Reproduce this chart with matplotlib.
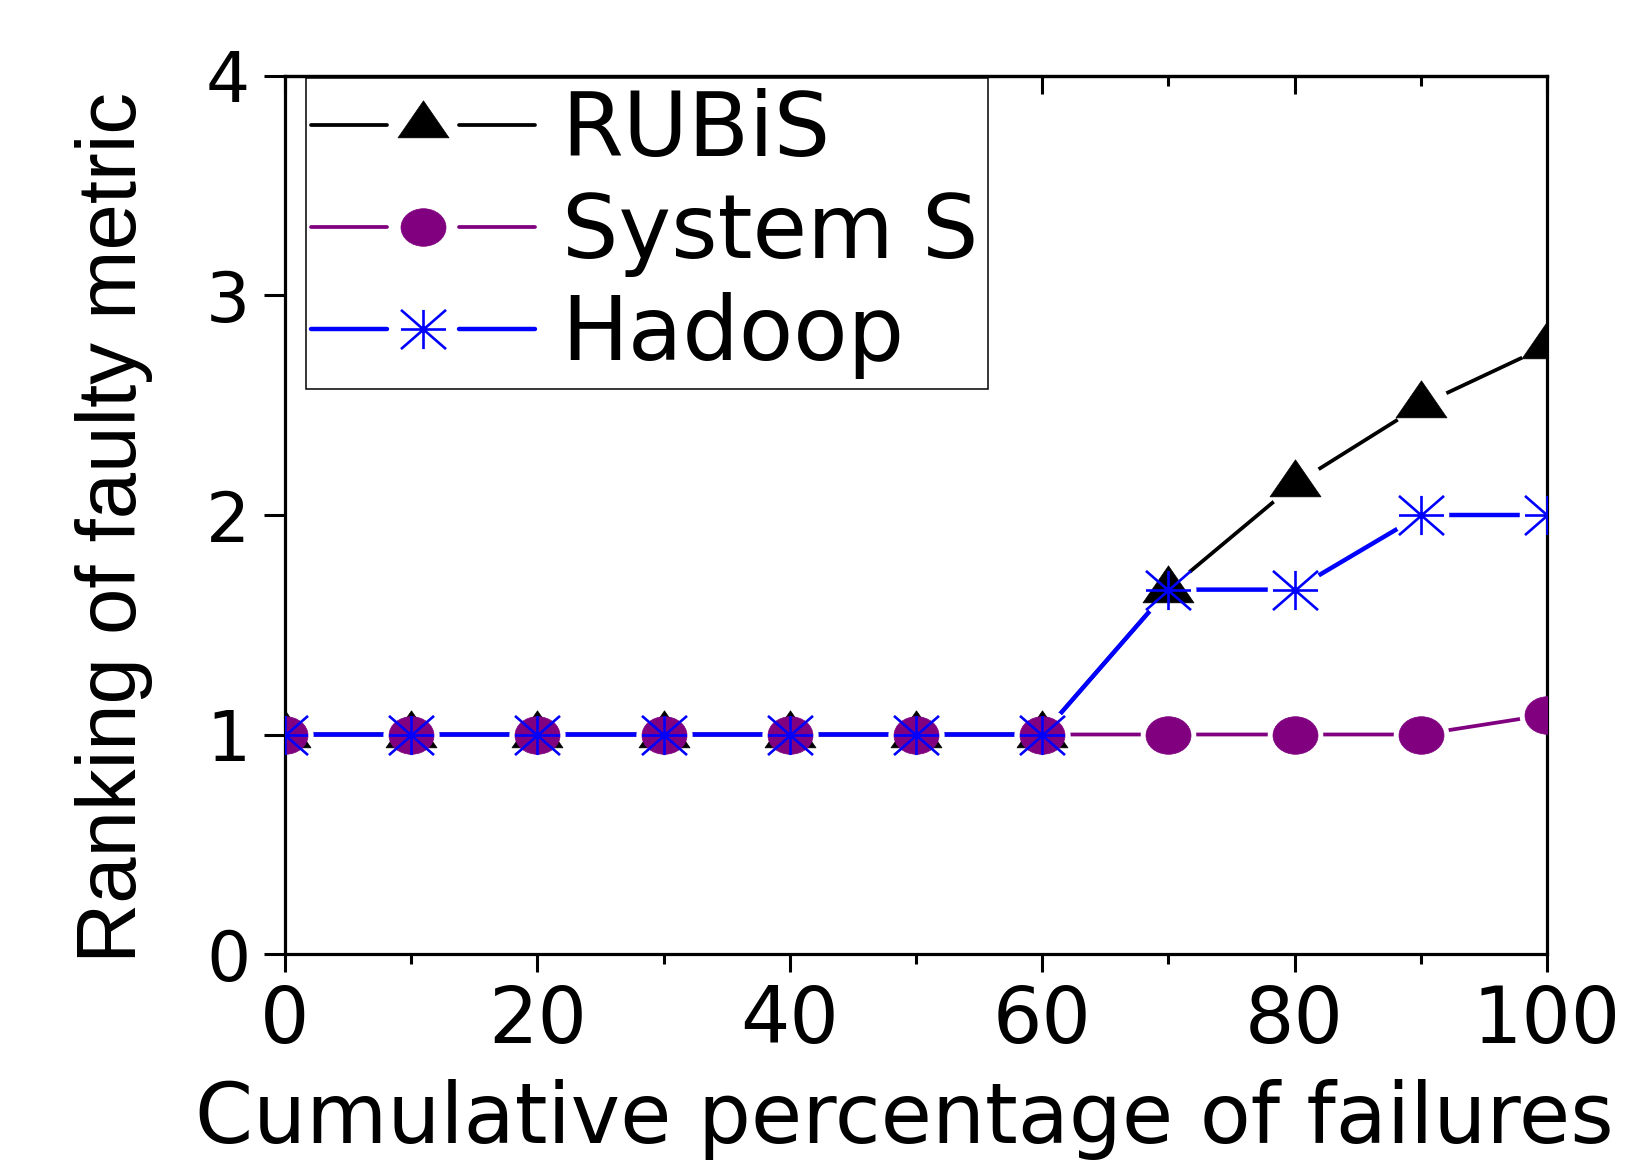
import numpy as np
import matplotlib
matplotlib.use("Agg")
import matplotlib.pyplot as plt
from matplotlib.lines import Line2D
from matplotlib.path import Path
from matplotlib.legend_handler import HandlerBase
from matplotlib.ticker import MultipleLocator, FixedLocator

# ---------------- data ----------------
x_pct = [0, 10, 20, 30, 40, 50, 60, 70, 80, 90, 100]
rubis = [1, 1, 1, 1, 1, 1, 1, 1.66, 2.14, 2.5, 2.77]
system_s = [1, 1, 1, 1, 1, 1, 1, 1, 1, 1, 1.09]
hadoop = [1, 1, 1, 1, 1, 1, 1, 1.66, 1.66, 2, 2]
series_labels = ["RUBiS", "System S", "Hadoop"]
x_ticks = [0, 20, 40, 60, 80, 100]
y_ticks = [0, 1, 2, 3, 4]
x_label = "Cumulative percentage of failures"
y_label = "Ranking of faulty metric"

# ---------------- markers ----------------
tri_path = Path([(-0.5, -0.242), (0.5, -0.242), (0.0, 0.484), (-0.5, -0.242)],
                [Path.MOVETO, Path.LINETO, Path.LINETO, Path.CLOSEPOLY])
uc = Path.unit_circle()
ell_path = Path(uc.vertices * np.array([1.0, 0.835]), uc.codes)
ast_path = Path([(-1, 0), (1, 0), (0, -0.87), (0, 0.87),
                 (-1, -0.87), (1, 0.87), (-1, 0.87), (1, -0.87)],
                [Path.MOVETO, Path.LINETO] * 4)

PURPLE = "#800080"
BLUE = "#0000FF"
styles = [
    dict(color="black", lw=2.7, marker=tri_path, ms=36.7, mew=0.5, mfc="black", mec="black"),
    dict(color=PURPLE, lw=2.7, marker=ell_path, ms=32.4, mew=0.5, mfc=PURPLE, mec=PURPLE),
    dict(color=BLUE, lw=3.2, marker=ast_path, ms=32.4, mew=1.9, mfc="none", mec=BLUE),
]
data = [rubis, system_s, hadoop]

fig = plt.figure(figsize=(16.38, 11.64), dpi=100)
ax = fig.add_axes([0.17399, 0.18041, 0.77045, 0.75430])

# lines
for i, (yv, st) in enumerate(zip(data, styles)):
    ax.plot(x_pct, yv, color=st["color"], lw=st["lw"], solid_capstyle="round",
            zorder=2 + 0.1 * i)
# white halos (gaps between line and markers, Origin-style)
for yv in data:
    ax.plot(x_pct, yv, ls="none", marker="o", ms=40, mfc="white", mec="none", zorder=2.5)
# markers
for i, (yv, st) in enumerate(zip(data, styles)):
    ax.plot(x_pct, yv, ls="none", marker=st["marker"], ms=st["ms"], mew=st["mew"],
            mfc=st["mfc"], mec=st["mec"], zorder=3 + 0.1 * i)

ax.set_xlim(0, 100)
ax.set_ylim(0, 4)
ax.xaxis.set_major_locator(FixedLocator(x_ticks))
ax.xaxis.set_minor_locator(MultipleLocator(10))
ax.yaxis.set_major_locator(FixedLocator(y_ticks))
ax.yaxis.set_minor_locator(FixedLocator([]))

for s in ax.spines.values():
    s.set_linewidth(2.3)

ax.tick_params(axis="x", which="major", direction="out", length=13, width=2.2,
               labelsize=56, pad=8, top=False, bottom=True)
ax.tick_params(axis="x", which="minor", direction="out", length=7, width=2.2,
               top=False, bottom=True)
ax.tick_params(axis="y", which="major", direction="out", length=15, width=2.2,
               labelsize=50, pad=10, right=False, left=True)
for lab in ax.get_xticklabels() + ax.get_yticklabels():
    lab.set_family("DejaVu Sans")

# top ticks pointing inward
sec = ax.secondary_xaxis("top")
sec.xaxis.set_major_locator(FixedLocator(x_ticks))
sec.xaxis.set_minor_locator(MultipleLocator(10))
sec.tick_params(axis="x", which="major", direction="in", length=13, width=2.2, labeltop=False)
sec.tick_params(axis="x", which="minor", direction="in", length=7, width=2.2)
sec.spines["top"].set_linewidth(2.3)

ax.set_xlabel(x_label, fontsize=60, family="DejaVu Sans")
ax.xaxis.label.set_va("baseline")
ax.xaxis.set_label_coords(0.491, -0.2153)

ax.set_ylabel(y_label, fontsize=60, family="Liberation Sans")
ax.yaxis.label.set_rotation_mode("anchor")
ax.yaxis.label.set_va("baseline")
ax.yaxis.label.set_ha("center")
ax.yaxis.set_label_coords(-0.118, 0.486)

LEG_FS = 64.0
BP = 0.11           # border pad (fraction of font size)
SHIFT = 3.5         # pt, draw handle left of its box
LINE_W = 161.3      # pt, total handle drawing width


class GapHandler(HandlerBase):
    def __init__(self, st, gap):
        super().__init__()
        self.st = st
        self.gap = gap

    def create_artists(self, legend, orig_handle, xdescent, ydescent, width, height,
                       fontsize, trans):
        st = self.st
        y = height / 2 - ydescent
        x0 = -xdescent - SHIFT
        x1 = x0 + LINE_W
        xc = (x0 + x1) / 2
        l1 = Line2D([x0, xc - self.gap], [y, y], color=st["color"], lw=st["lw"],
                    solid_capstyle="round")
        l2 = Line2D([xc + self.gap, x1], [y, y], color=st["color"], lw=st["lw"],
                    solid_capstyle="round")
        m = Line2D([xc], [y], ls="none", marker=st["marker"], ms=st["ms"], mew=st["mew"],
                   mfc=st["mfc"], mec=st["mec"])
        for a in (l1, l2, m):
            a.set_transform(trans)
        return [l1, l2, m]


handles = [Line2D([], [], color=st["color"]) for st in styles]
hmap = {h: GapHandler(st, 26) for h, st in zip(handles, styles)}
leg = ax.legend(handles, series_labels, handler_map=hmap, loc="upper left",
                bbox_to_anchor=(0.0166, 0.9977), borderaxespad=0,
                prop={"family": "DejaVu Sans", "size": LEG_FS},
                handlelength=2.466, handletextpad=0.30, borderpad=BP,
                labelspacing=0.17, fancybox=False, framealpha=1, edgecolor="black")
leg.get_frame().set_linewidth(1.1)
leg.set_zorder(5)

fig.savefig("out.png", dpi=100)
